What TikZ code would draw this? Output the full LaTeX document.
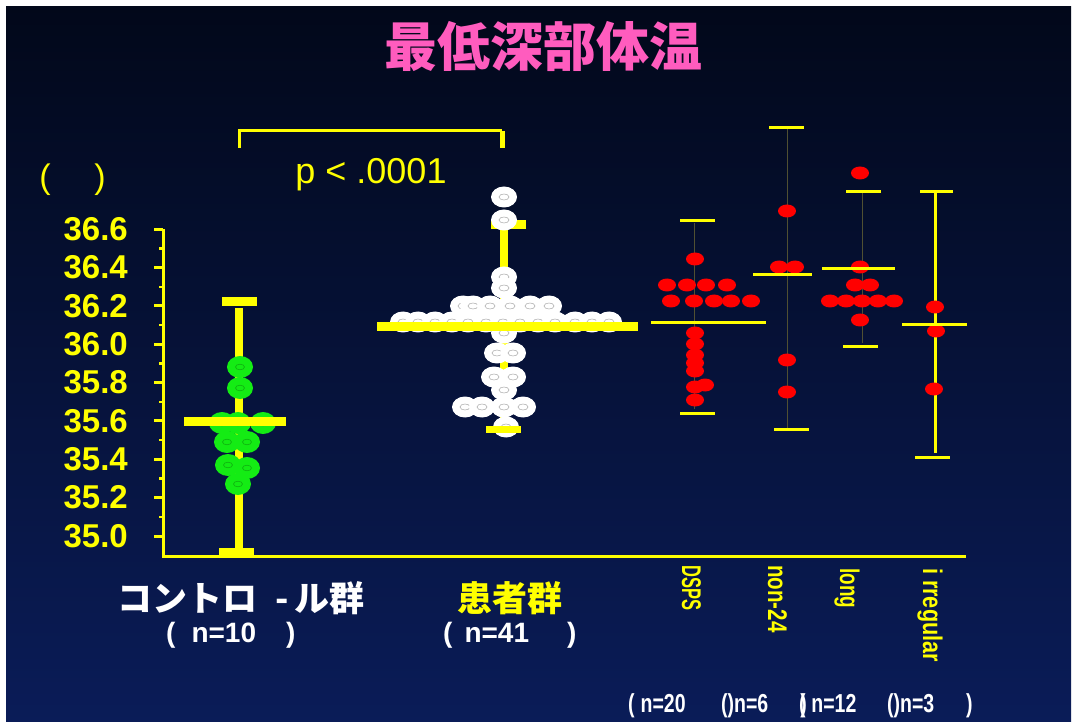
\documentclass[tikz,border=0pt]{standalone}
\usepackage{fontspec}
\setmainfont{Liberation Sans}
\newfontfamily\cjk{Noto Sans CJK JP}
\definecolor{bgtop}{RGB}{2,8,26}
\definecolor{bgbot}{RGB}{10,28,88}
\definecolor{ylw}{RGB}{255,255,0}
\definecolor{pinkt}{RGB}{255,92,190}
\definecolor{gdotc}{RGB}{20,236,20}
\definecolor{rdotc}{RGB}{255,0,0}
\definecolor{thinc}{RGB}{80,80,50}
\newcommand{\fs}[1]{\fontsize{#1}{#1}\selectfont}
\tikzset{
  txt/.style={text=ylw,inner sep=0pt},
  wtxt/.style={text=white,inner sep=0pt},
  vlab/.style={text=ylw,inner sep=0pt,rotate=-90,anchor=base west,font=\bfseries\fs{27}},
  bar/.style={draw=ylw,line width=8pt},
  thinbar/.style={draw=thinc,line width=1pt},
  ycap/.style={draw=ylw,line width=3pt},
  axisline/.style={draw=ylw,line width=3pt},
  gdot/.pic={\fill[gdotc] (0,0) ellipse[x radius=13,y radius=11];
             \draw[gdotc!75!black,line width=0.6pt] (0,0) ellipse[x radius=4.5,y radius=2.8];},
  wdot/.pic={\fill[white] (0,0) ellipse[x radius=13,y radius=10.5];
             \draw[gray!60,line width=0.6pt] (0,0) ellipse[x radius=5,y radius=3];},
  rdot/.pic={\fill[rdotc] (0,0) ellipse[x radius=9,y radius=6.5];}
}
\begin{document}
\begin{tikzpicture}[x=1pt,y=-1pt]
\useasboundingbox (0,0) rectangle (1072,722);
\fill[white] (0,0) rectangle (1072,722);
\shade[top color=bgtop,bottom color=bgbot] (6,7) rectangle (1071,722);

% title
\node[text=pinkt,inner sep=0pt] (title) at (543,47) {\cjk\bfseries\fs{53}最低深部体温};

% axes
\coordinate (ytop) at (163,229);
\coordinate (orig) at (163,556);
\coordinate (xend) at (966,556);
\draw[axisline] (ytop) -- (orig) -- (xend);
\foreach \v in {35.0,35.2,35.4,35.6,35.8,36.0,36.2,36.4,36.6}{
  \pgfmathsetmacro\yy{536-(\v-35)*191.7}
  \draw[ylw,line width=3pt] (154,\yy) -- (163,\yy);
  \node[txt,anchor=east] (lab\v) at (128,\yy) {\bfseries\fs{33}\v};
}
\foreach \v in {35.1,35.3,35.5,35.7,35.9,36.1,36.3,36.5}{
  \pgfmathsetmacro\yy{536-(\v-35)*191.7}
  \draw[ylw,line width=2.5pt] (159,\yy) -- (163,\yy);
}
\node[txt] (unitl) at (45,180) {\fs{34}(};
\node[txt] (unitr) at (100,180) {\fs{34})};

% significance bracket
\coordinate (bl) at (239,148);
\coordinate (blt) at (239,131);
\coordinate (brt) at (502,131);
\coordinate (br) at (502,148);
\draw[ylw,line width=3pt] (bl) -- (blt) -- (brt);
\draw[ylw,line width=5pt] (brt) -- (br);
\node[txt] (pval) at (371,175) {\fs{36}p < .0001};

% ---------- control group
\coordinate (c1) at (239,308);
\coordinate (c2) at (239,548);
\draw[bar] (c1) -- (c2);
\fill[ylw] (222,297) rectangle (257,306);
\fill[ylw] (219,548) rectangle (254,556);
\foreach \x/\y in {240/367,240/388,227/442,247/442,228/465,247/468,238/484,222/423,263/423,238/423}
  \pic at (\x,\y) {gdot};
\fill[ylw] (184,417) rectangle (286,426);

% ---------- patient group
\coordinate (p1) at (504,222);
\coordinate (p2) at (504,428);
\draw[bar] (p1) -- (p2);
\fill[ylw] (491,220) rectangle (526,229);
\foreach \x/\y in {504/197,504/220,504/277,504/288,
  463/306,473/306,490/306,510/306,530/306,549/306,
  403/322,418/322,435/322,452/322,468/322,486/322,503/322,520/322,538/322,555/322,575/322,592/322,609/322,
  504/333,497/353,513/353,494/377,513/377,504/390,
  465/407,482/407,504/407,523/407,506/427}
  \pic at (\x,\y) {wdot};
\fill[ylw] (377,322) rectangle (638,331);
\fill[ylw] (486,426) rectangle (521,433);

% ---------- DSPS
\coordinate (d1) at (694,223);
\coordinate (d2) at (694,409);
\draw[thinbar] (d1) -- (d2);
\draw[ycap] (680,221) -- (715,221);
\draw[ycap] (680,413) -- (715,413);
\foreach \x/\y in {695/259,667/285,687/285,706/285,727/285,
  671/301,694/301,714/301,731/301,751/301,
  695/333,695/344,695/355,695/363,695/371,695/387,705/385,695/400}
  \pic at (\x,\y) {rdot};
\draw[ycap] (651,323) -- (766,323);

% ---------- non-24
\coordinate (n1) at (787,128);
\coordinate (n2) at (787,430);
\draw[thinbar] (n1) -- (n2);
\draw[ycap] (769,128) -- (804,128);
\draw[ycap] (774,429) -- (809,429);
\foreach \x/\y in {787/211,779/267,795/267,787/360,787/392}
  \pic at (\x,\y) {rdot};
\draw[ycap] (753,275) -- (812,275);

% ---------- long
\coordinate (l1) at (862,192);
\coordinate (l2) at (862,343);
\draw[thinbar] (l1) -- (l2);
\draw[ycap] (846,192) -- (881,192);
\draw[ycap] (843,347) -- (878,347);
\foreach \x/\y in {860/173,860/267,855/285,870/285,830/301,846/301,862/301,878/301,894/301,860/320}
  \pic at (\x,\y) {rdot};
\draw[ycap] (822,269) -- (895,269);

% ---------- irregular
\coordinate (i1) at (935,193);
\coordinate (i2) at (935,453);
\draw[ylw,line width=3pt] (i1) -- (i2);
\draw[ycap] (920,192) -- (953,192);
\draw[ycap] (915,457) -- (950,457);
\foreach \x/\y in {935/307,936/331,934/389}
  \pic at (\x,\y) {rdot};
\draw[ycap] (902,325) -- (967,325);

% ---------- x labels
\node[wtxt] (ctrl) at (241,598) {\cjk\bfseries\fs{35}コントロ\hspace{18pt}-\hspace{6pt}ル群};
\node[wtxt,anchor=west] (ctrln) at (166,635) {\bfseries\fs{28}(\hspace{16pt}n=10\hspace{30pt})};
\node[txt] (pat) at (510,598) {\cjk\bfseries\fs{35}患者群};
\node[wtxt,anchor=west] (patn) at (443,635) {\bfseries\fs{28}(\hspace{12pt}n=41\hspace{38pt})};

\node[vlab] (dsps) at (682,565) {\scalebox{0.61}[1]{DSPS}};
\node[vlab] (non) at (768,565) {\scalebox{0.76}[1]{non-24}};
\node[vlab] (long) at (840,568) {\scalebox{0.70}[1]{long}};
\node[vlab] (irr) at (923,568) {\scalebox{0.80}[1]{i rregular}};

\node[wtxt,anchor=west] (nb1) at (628,706) {\bfseries\fs{26}\scalebox{0.75}[1]{(\hspace{8pt}n=20}};
\node[wtxt,anchor=west] (nb2) at (721,706) {\bfseries\fs{26}\scalebox{0.75}[1]{()n=6}};
\node[wtxt,anchor=west] (nb3) at (799,706) {\bfseries\fs{26}\scalebox{0.75}[1]{(\kern-7pt)\kern6pt n=12}};
\node[wtxt,anchor=west] (nb4) at (887,706) {\bfseries\fs{26}\scalebox{0.75}[1]{()n=3}};
\node[wtxt,anchor=west] (nb5) at (966,706) {\bfseries\fs{26}\scalebox{0.75}[1]{)}};
\end{tikzpicture}
\end{document}
